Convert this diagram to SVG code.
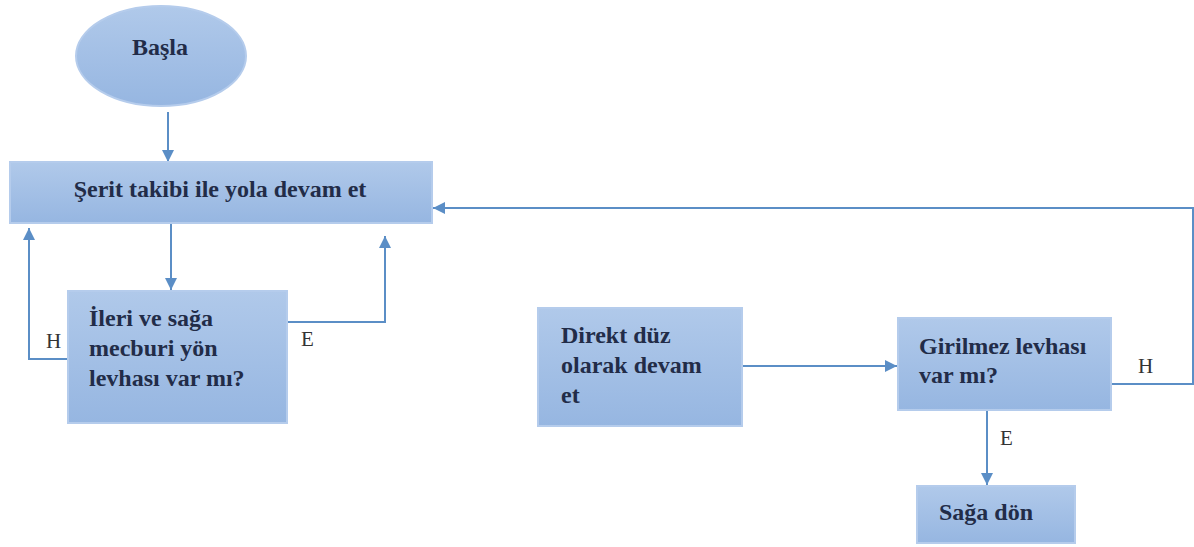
<svg xmlns="http://www.w3.org/2000/svg" width="1194" height="547" viewBox="0 0 1194 547">
<defs>
<linearGradient id="g" x1="0" y1="0" x2="0" y2="1">
<stop offset="0" stop-color="#b0c9ea"/>
<stop offset="1" stop-color="#96b6e1"/>
</linearGradient>
<marker id="arr" viewBox="0 0 10 10" refX="10" refY="5" markerWidth="12" markerHeight="12" markerUnits="userSpaceOnUse" orient="auto">
<path d="M0,0 L10,5 L0,10 z" fill="#5b8ec6"/>
</marker>
<style>
.box{fill:url(#g);stroke:#b5ccec;stroke-width:2}
.t{font-family:"Liberation Serif",serif;font-weight:bold;font-size:24px;fill:#222c48}
.lbl{font-family:"Liberation Serif",serif;font-size:21px;fill:#333}
.c{fill:none;stroke:#5b8ec6;stroke-width:2;marker-end:url(#arr)}
</style>
</defs>
<rect width="1194" height="547" fill="#ffffff"/>
<g id="connectors">
<path class="c" d="M168,112 V162"/>
<path class="c" d="M171,223 V290"/>
<path class="c" d="M68,359 H29 V228"/>
<path class="c" d="M287,322 H385 V236"/>
<path class="c" d="M1111,384 H1193 V208 H433"/>
<path class="c" d="M742,366 H897"/>
<path class="c" d="M987,410 V485"/>
<text class="lbl" x="46" y="348">H</text>
<text class="lbl" x="301" y="346">E</text>
<text class="lbl" x="1138" y="373">H</text>
<text class="lbl" x="1000" y="445">E</text>
</g>
<g id="start">
<ellipse class="box" cx="161" cy="56" rx="85" ry="50"/>
<text class="t" x="160" y="55" text-anchor="middle">Başla</text>
</g>
<g id="serit">
<rect class="box" x="10" y="162" width="422" height="61"/>
<text class="t" x="220" y="197" text-anchor="middle">Şerit takibi ile yola devam et</text>
</g>
<g id="ileri">
<rect class="box" x="68" y="291" width="219" height="132"/>
<text class="t" x="89" y="326">İleri ve sağa</text>
<text class="t" x="89" y="356">mecburi yön</text>
<text class="t" x="89" y="386">levhası var mı?</text>
</g>
<g id="direkt">
<rect class="box" x="538" y="308" width="204" height="118"/>
<text class="t" x="561" y="343">Direkt düz</text>
<text class="t" x="561" y="373">olarak devam</text>
<text class="t" x="561" y="403">et</text>
</g>
<g id="girilmez">
<rect class="box" x="898" y="318" width="213" height="92"/>
<text class="t" x="919" y="354">Girilmez levhası</text>
<text class="t" x="919" y="383">var mı?</text>
</g>
<g id="saga">
<rect class="box" x="917" y="486" width="158" height="57"/>
<text class="t" x="939" y="520">Sağa dön</text>
</g>
</svg>
